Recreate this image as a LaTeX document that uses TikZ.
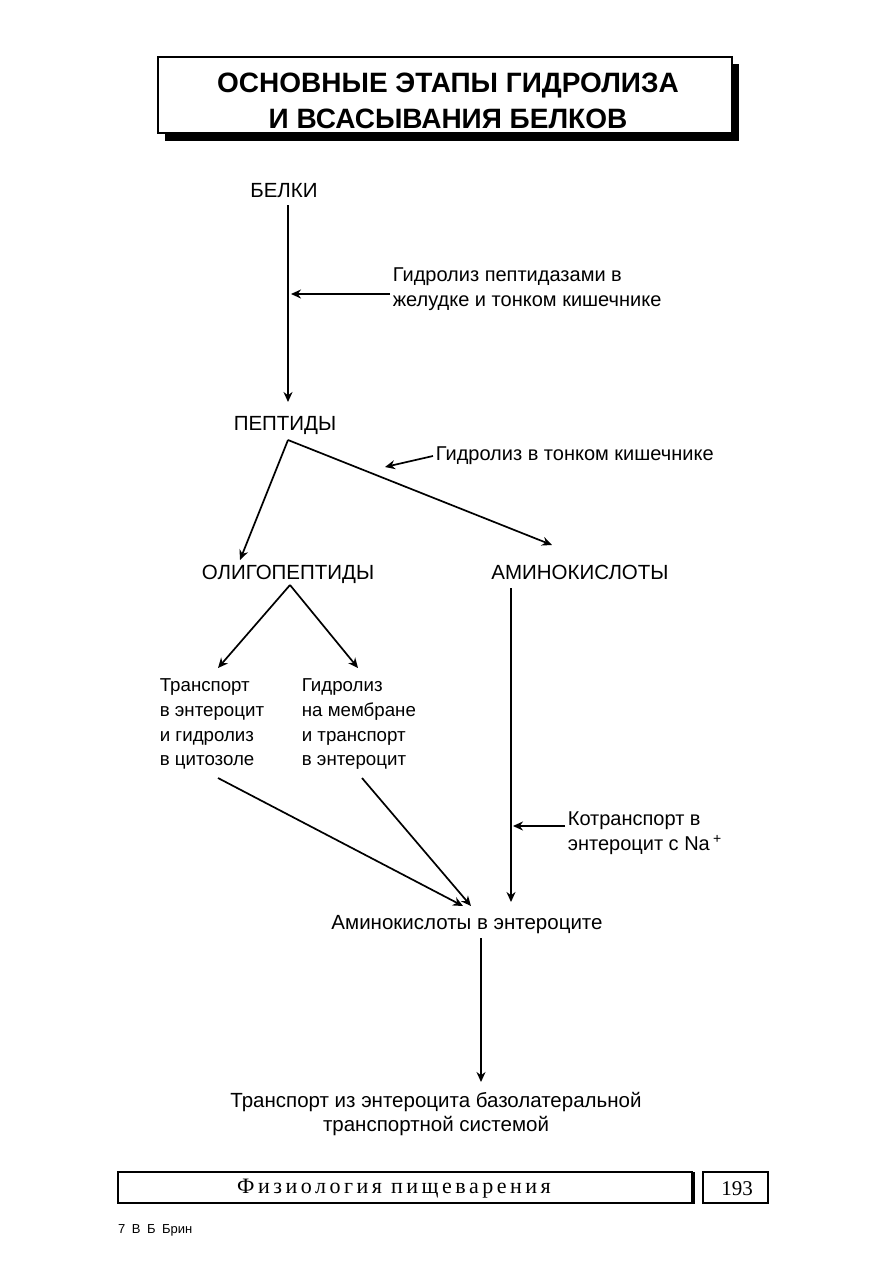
\documentclass[tikz,border=0pt]{standalone}
\usepackage{fontspec}
\setmainfont{Liberation Sans}
\newfontfamily\bookserif{Liberation Serif}
\usetikzlibrary{arrows.meta}

\begin{document}
\begin{tikzpicture}[x=1pt,y=-1pt,line width=1.7pt,>={Stealth[length=10pt,width=9pt]}]
  \tikzstyle{stage}=[inner sep=2pt,anchor=base,font=\fontsize{20.5}{24.5}\selectfont]
  \tikzstyle{note}=[inner sep=2pt,align=left,font=\fontsize{20}{25.5}\selectfont]
  \tikzstyle{step text}=[inner sep=2pt,align=left,anchor=north west,font=\fontsize{18.7}{24.7}\selectfont]
  \tikzstyle{flow}=[->]
  \useasboundingbox (0,0) rectangle (893,1263);
  % title box with shadow
  \fill (165,64) rectangle (739,141);
  \draw[fill=white,line width=1.4pt] (158,57) rectangle (732,133);
  \node[font=\bfseries\fontsize{28}{36}\selectfont,align=center] (title) at (448,101)
    {ОСНОВНЫЕ ЭТАПЫ ГИДРОЛИЗА\\И ВСАСЫВАНИЯ БЕЛКОВ};
  % stages
  \node[stage] (B) at (284,197) {БЕЛКИ};
  \node[stage] (P) at (285,430) {ПЕПТИДЫ};
  \node[stage] (O) at (288,579) {ОЛИГОПЕПТИДЫ};
  \node[stage] (A) at (580,579) {АМИНОКИСЛОТЫ};
  \node[step text] (T1) at (157,676) {Транспорт\\в энтероцит\\и гидролиз\\в цитозоле};
  \node[step text] (T2) at (299,676) {Гидролиз\\на мембране\\и транспорт\\в энтероцит};
  \node[stage] (AE) at (467,929) {Аминокислоты в энтероците};
  \node[stage,anchor=center,align=center] (TB) at (436,1114) {Транспорт из энтероцита базолатеральной\\транспортной системой};
  % notes
  \node[note,anchor=west] (N1) at (390,289) {Гидролиз пептидазами в\\желудке и тонком кишечнике};
  \node[note,anchor=west] (N2) at (433,456) {Гидролиз в тонком кишечнике};
  \node[note,anchor=west] (N3) at (565,833) {Котранспорт в\\энтероцит с Na\,\textsuperscript{+}};
  % joints
  \coordinate (Bout) at (288,205);
  \coordinate (Pin) at (288,402);
  \coordinate (Pout) at (288,440);
  \coordinate (Oin) at (240,560);
  \coordinate (Ain) at (552,545);
  \coordinate (Oout) at (290,585);
  \coordinate (T1in) at (218,668);
  \coordinate (T2in) at (358,668);
  \coordinate (T1out) at (218,778);
  \coordinate (T2out) at (362,778);
  \coordinate (AEin1) at (463,906);
  \coordinate (AEin2) at (471,906);
  \coordinate (Aout) at (511,588);
  \coordinate (AEin3) at (511,902);
  \coordinate (AEout) at (481,938);
  \coordinate (TBin) at (481,1082);
  \coordinate (N1on) at (291,294);
  \coordinate (N2on) at (385,467);
  \coordinate (N3on) at (513,826);
  % connectors
  \draw[flow] (Bout) -- (Pin);
  \draw[flow] (Pout) -- (Oin);
  \draw[flow] (Pout) -- (Ain);
  \draw[flow] (Oout) -- (T1in);
  \draw[flow] (Oout) -- (T2in);
  \draw[flow] (T1out) -- (AEin1);
  \draw[flow] (T2out) -- (AEin2);
  \draw[flow] (Aout) -- (AEin3);
  \draw[flow] (AEout) -- (TBin);
  \draw[flow] (N1.west |- N1on) -- (N1on);
  \draw[flow] (N2.west) -- (N2on);
  \draw[flow] (N3.west |- N3on) -- (N3on);
  % footer
  \draw[line width=1.2pt] (118,1172) rectangle (692,1203);
  \draw[line width=2.4pt] (694,1172) -- (694,1204);
  \draw[line width=1.2pt] (703,1172) rectangle (768,1203);
  \node[font=\bookserif\addfontfeature{LetterSpace=16}\fontsize{22}{24}\selectfont] (F) at (394,1189) {Физиология пищеварения};
  \node[font=\bookserif\fontsize{21}{22}\selectfont] (pg) at (737,1189) {193};
  \node[anchor=west,font=\fontsize{13}{15}\selectfont] (au) at (114,1230) {7\enspace В\enspace Б\enspace Брин};
\end{tikzpicture}
\end{document}
